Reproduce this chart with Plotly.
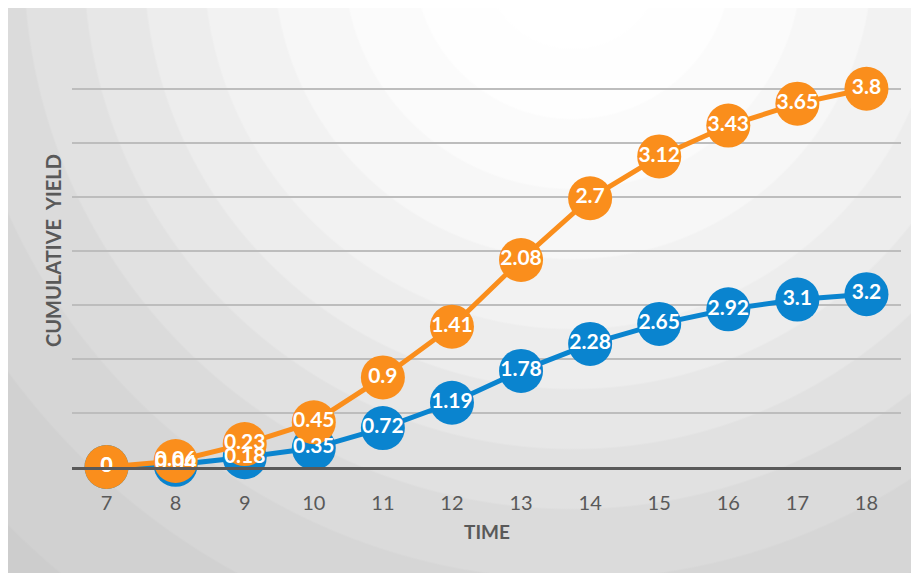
import base64
import plotly.graph_objects as go

# ---- data ----
time = [7, 8, 9, 10, 11, 12, 13, 14, 15, 16, 17, 18]
series_blue = [0, 0.04, 0.18, 0.35, 0.72, 1.19, 1.78, 2.28, 2.65, 2.92, 3.1, 3.2]
series_orange = [0, 0.06, 0.23, 0.45, 0.9, 1.41, 2.08, 2.7, 3.12, 3.43, 3.65, 3.8]
tick_labels = [str(t) for t in time]

BLUE = "#0A84CF"
ORANGE = "#FA8E1C"
TXT = "#595959"
FONT = "Lato"

W, H = 919, 573
ML, MR, MT, MB = 64, 26, 27, 114
PW, PH = W - ML - MR, H - MT - MB

# ---- radial gradient background (decorative) ----
bands = [(0, 255), (90, 254), (160, 251), (230, 247), (300, 242), (370, 237),
         (430, 231), (490, 225), (550, 219), (620, 214), (700, 209), (800, 205), (950, 202)]
R = 950.0
stops = []
for i, (r, g) in enumerate(bands):
    col = "#%02x%02x%02x" % (g, g, g)
    off = r / R
    stops.append(f'<stop offset="{off:.4f}" stop-color="{col}"/>')
    if i + 1 < len(bands):
        nxt = bands[i + 1][0] / R
        stops.append(f'<stop offset="{nxt - 0.002:.4f}" stop-color="{col}"/>')
bw, bh = W, H
svg = (
    f'<svg xmlns="http://www.w3.org/2000/svg" width="{bw}" height="{bh}" viewBox="0 0 {bw} {bh}" preserveAspectRatio="none">'
    f'<defs><radialGradient id="g" gradientUnits="userSpaceOnUse" cx="565" cy="-48" r="{R}">'
    + "".join(stops) +
    '</radialGradient></defs>'
    f'<rect x="0" y="0" width="{bw}" height="{bh}" fill="url(#g)"/>'
    '</svg>'
)
src = "data:image/svg+xml;base64," + base64.b64encode(svg.encode()).decode()

fig = go.Figure()

# blue series (primary axis)
fig.add_trace(go.Scatter(
    x=time, y=series_blue, mode="lines+markers", yaxis="y", cliponaxis=False,
    line=dict(color=BLUE, width=5),
    marker=dict(color=BLUE, size=44), showlegend=False, hoverinfo="x+y"))
# orange series (secondary axis)
fig.add_trace(go.Scatter(
    x=time, y=series_orange, mode="lines+markers+text", yaxis="y2", cliponaxis=False,
    line=dict(color=ORANGE, width=5),
    marker=dict(color=ORANGE, size=44),
    text=[f"{v:g}" for v in series_orange], textposition="middle center",
    textfont=dict(family=FONT, size=21, color="white", weight="bold"),
    showlegend=False, hoverinfo="x+y"))
# blue labels on top
fig.add_trace(go.Scatter(
    x=time, y=series_blue, mode="text", yaxis="y3", cliponaxis=False,
    text=[f"{v:g}" for v in series_blue], textposition="middle center",
    textfont=dict(family=FONT, size=21, color="white", weight="bold"),
    showlegend=False, hoverinfo="skip"))

fig.update_layout(
    width=W, height=H,
    margin=dict(l=ML, r=MR, t=MT, b=MB),
    paper_bgcolor="#dcdcdc",
    plot_bgcolor="rgba(0,0,0,0)",
    font=dict(family=FONT, color=TXT),
    xaxis=dict(
        range=[6.5, 18.5], tickmode="array", tickvals=time, ticktext=tick_labels,
        showgrid=False, zeroline=False, showline=True, linecolor="#595959", linewidth=3,
        ticks="", ticklabelstandoff=16,
        tickfont=dict(family=FONT, size=20, color=TXT)),
    yaxis=dict(
        range=[0, 8], dtick=1, showticklabels=False, showgrid=True,
        gridcolor="#bdbdbd", gridwidth=1.5, zeroline=False, showline=False),
    yaxis2=dict(
        range=[0, 4.34], overlaying="y", side="right", showticklabels=False,
        showgrid=False, zeroline=False, showline=False),
    yaxis3=dict(
        matches="y", overlaying="y", showticklabels=False,
        showgrid=False, zeroline=False, showline=False),
    images=[dict(
        source=src, xref="paper", yref="paper",
        x=-ML / PW, y=1 + MT / PH,
        sizex=W / PW, sizey=H / PH,
        xanchor="left", yanchor="top", sizing="stretch", layer="below")],
    annotations=[
        dict(text="CUMULATIVE\u00a0\u00a0YIELD", textangle=-90, xref="paper", yref="paper",
             x=(45 - ML) / PW, y=0.5, showarrow=False, xanchor="center", yanchor="middle",
             font=dict(family=FONT, size=20, color=TXT, weight="bold")),
        dict(text="TIME", xref="paper", yref="paper",
             x=0.5, y=-(523 - (MT + PH)) / PH, showarrow=False, xanchor="center", yanchor="middle",
             font=dict(family=FONT, size=19, color=TXT, weight="bold")),
    ],
)

fig.write_html("out.html")
